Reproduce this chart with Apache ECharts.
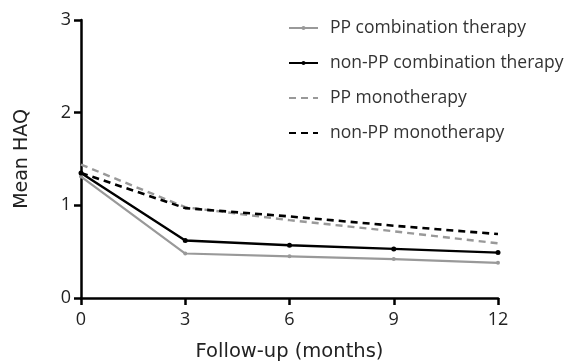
<!DOCTYPE html>
<html><head><meta charset="utf-8">
<script src="https://cdn.jsdelivr.net/npm/echarts@6/dist/echarts.min.js"></script>
<style>html,body{margin:0;padding:0;background:#fff}#c{width:573px;height:364px}</style>
</head><body><div id="c"></div>
<script>
var months = [0, 3, 6, 9, 12];
var ppCombo = [1.31, 0.48, 0.45, 0.42, 0.38];
var nonPpCombo = [1.35, 0.62, 0.57, 0.53, 0.49];
var ppMono = [1.44, 0.98, 0.84, 0.72, 0.59];
var nonPpMono = [1.35, 0.97, 0.88, 0.78, 0.69];
var yTicks = [0, 1, 2, 3];
var names = ['PP combination therapy', 'non-PP combination therapy', 'PP monotherapy', 'non-PP monotherapy'];

function pairs(arr){ return months.map(function(m,i){ return [m, arr[i]]; }); }
var font = '"Open Sans", sans-serif';
var titleFont = '"DejaVu Sans", sans-serif';
var chart = echarts.init(document.getElementById('c'));
chart.setOption({
  animation: false,
  grid: {left: 81, right: 75, top: 20, bottom: 66, containLabel: false, outerBoundsMode: 'none'},
  legend: {
    orient: 'vertical', left: 283, top: 13, itemWidth: 29, itemHeight: 5, itemGap: 15,
    textStyle: {fontFamily: font, fontSize: 17.5, color: '#333', lineHeight: 20, padding: [0, 0, 0, 7]},
    data: [
      {name: names[0]},
      {name: names[1]},
      {name: names[2], itemStyle: {opacity: 0}},
      {name: names[3], itemStyle: {opacity: 0}}
    ]
  },
  xAxis: {
    type: 'value', min: 0, max: 12, interval: 3,
    name: 'Follow-up (months)', nameLocation: 'middle', nameGap: 44,
    nameTextStyle: {fontFamily: titleFont, fontSize: 19.5, color: '#222'},
    axisLine: {lineStyle: {color: '#000', width: 2.5}},
    axisTick: {show: true, inside: false, length: 7, lineStyle: {color: '#000', width: 2.5}},
    axisLabel: {fontFamily: font, fontSize: 18, color: '#222', margin: 13},
    splitLine: {show: false}
  },
  yAxis: {
    type: 'value', min: 0, max: 3, interval: 1,
    name: 'Mean HAQ', nameLocation: 'middle', nameGap: 49, nameRotate: 90,
    nameTextStyle: {fontFamily: titleFont, fontSize: 19, color: '#222'},
    axisLine: {show: true, lineStyle: {color: '#000', width: 2.5}},
    axisTick: {show: true, inside: false, length: 7, lineStyle: {color: '#000', width: 2.5}},
    axisLabel: {fontFamily: font, fontSize: 18, color: '#222', margin: 10,
      formatter: function(v){ return yTicks.indexOf(v) >= 0 ? String(v) : ''; }},
    splitLine: {show: false}
  },
  series: [
    {name: names[0], type: 'line', data: pairs(ppCombo), symbol: 'circle', symbolSize: 4,
      itemStyle: {color: '#999'}, lineStyle: {color: '#999', width: 2.2}},
    {name: names[1], type: 'line', data: pairs(nonPpCombo), symbol: 'circle', symbolSize: 5,
      itemStyle: {color: '#000'}, lineStyle: {color: '#000', width: 2.4}},
    {name: names[2], type: 'line', data: pairs(ppMono), symbol: 'none',
      itemStyle: {color: '#999'}, lineStyle: {color: '#999', width: 2.4, type: [7, 5]}},
    {name: names[3], type: 'line', data: pairs(nonPpMono), symbol: 'none',
      itemStyle: {color: '#000'}, lineStyle: {color: '#000', width: 2.6, type: [7, 5]}}
  ]
});
</script></body></html>
